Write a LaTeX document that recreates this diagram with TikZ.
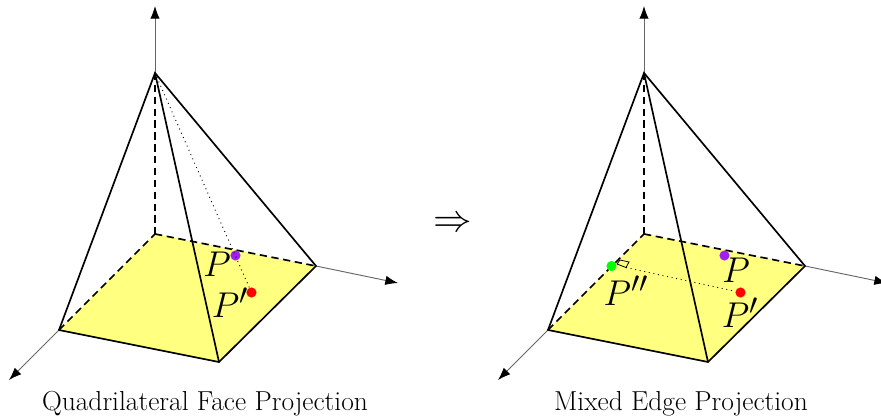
\documentclass[tikz,border=0pt]{standalone}
\usetikzlibrary{arrows.meta}
\definecolor{pviolet}{RGB}{160,32,240}
\definecolor{faceyellow}{RGB}{255,255,128}
\begin{document}
\begin{tikzpicture}[x=0.75pt,y=-0.75pt,
  axisline/.style={line width=0.7pt,draw=black!60!white,-{Latex[length=9.5pt,width=7pt,black]}},
  edgeline/.style={line width=1.25pt,black,line cap=round},
  hiddenline/.style={line width=1.25pt,black,dash pattern=on 5.5pt off 3.4pt},
  sightline/.style={line width=0.7pt,black,dash pattern=on 0.7pt off 2.8pt},
  dotmark/.style={circle,inner sep=0pt,minimum size=7.6pt,fill=#1},
  lab/.style={inner sep=0pt,scale=1.08,font=\fontsize{24.88}{29}\selectfont},
  imptext/.style={inner sep=0pt,scale=1.16,font=\fontsize{24.88}{29}\selectfont},
  captext/.style={inner sep=0pt,font=\fontsize{20.6}{24}\selectfont}]
\useasboundingbox (0,0) rectangle (881,420);
% left figure
\begin{scope}
\coordinate (A) at (155,73);
\coordinate (B) at (155,234);
\coordinate (R) at (316,266);
\coordinate (F) at (219,362);
\coordinate (L) at (59,330);
\coordinate (T) at (155,6);
\coordinate (X) at (398,283);
\coordinate (Y) at (9,380);
\fill[faceyellow] (B)--(R)--(F)--(L)--cycle;
\draw[axisline] (A)--(T);
\draw[axisline] (R)--(X);
\draw[axisline] (L)--(Y);
\draw[hiddenline] (A)--(B);
\draw[hiddenline] (L)--(B);
\draw[hiddenline] (B)--(R);
\draw[edgeline] (L)--(F)--(R);
\draw[edgeline] (L)--(A)--(R);
\draw[edgeline] (A)--(F);
\node[dotmark=pviolet] (P) at (235.5,255.5) {};
\node[dotmark=red] (Q) at (251.5,292.5) {};
\draw[sightline] (A)--(Q);
\node[lab] (lP) at (217,264) {$P$};
\node[lab] (lQ) at (230,302.5) {$P'$};
\node[captext] (c1) at (205,403.5) {Quadrilateral Face Projection};
\end{scope}
% arrow
\node[imptext] (imp) at (453,224) {$\Rightarrow$};
% right figure
\begin{scope}[xshift=366.75pt]
\coordinate (A2) at (155,73);
\coordinate (B2) at (155,234);
\coordinate (R2) at (316,266);
\coordinate (F2) at (219,362);
\coordinate (L2) at (59,330);
\coordinate (T2) at (155,6);
\coordinate (X2) at (398,283);
\coordinate (Y2) at (9,380);
\coordinate (M2) at (137,267.5);
\fill[faceyellow] (B2)--(R2)--(F2)--(L2)--cycle;
\draw[axisline] (A2)--(T2);
\draw[axisline] (R2)--(X2);
\draw[axisline] (L2)--(Y2);
\draw[hiddenline] (A2)--(B2);
\draw[hiddenline] (L2)--(B2);
\draw[hiddenline] (B2)--(R2);
\draw[edgeline] (L2)--(F2)--(R2);
\draw[edgeline] (L2)--(A2)--(R2);
\draw[edgeline] (A2)--(F2);
\node[dotmark=pviolet] (P2) at (235.5,255.5) {};
\node[dotmark=red] (Q2) at (251.5,292.5) {};
\node[dotmark=green] (S2) at (122.5,266) {};
\draw[sightline] (M2)--(Q2);
\draw[line width=0.6pt] (128,264)--(131,260)--(140,262)--(M2)--cycle;
\node[lab] (lP2) at (247,270) {$P$};
\node[lab] (lQ2) at (251,313) {$P'$};
\node[lab] (lS2) at (137,291) {$P''$};
\node[captext] (c2) at (192,403.5) {Mixed Edge Projection};
\end{scope}
\end{tikzpicture}
\end{document}
